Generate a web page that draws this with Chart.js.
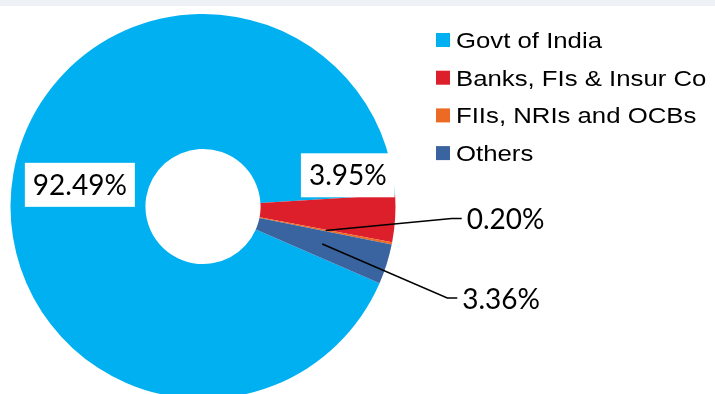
<!DOCTYPE html>
<html>
<head>
<meta charset="utf-8">
<script src="https://cdn.jsdelivr.net/npm/chart.js@4.4.1/dist/chart.umd.min.js"></script>
<style>
html, body { margin: 0; padding: 0; background: #fff; overflow: hidden; }
#wrap { position: relative; width: 715px; height: 394px; overflow: hidden; }
#band { position: absolute; left: 0; top: 0; width: 715px; height: 6px; background: #eef1f6; }
canvas { position: absolute; left: 0; top: 0; }
</style>
</head>
<body>
<div id="wrap">
  <canvas id="myChart" width="715" height="410"></canvas>
  <div id="band"></div>
</div>
<script>
const canvas = document.getElementById('myChart');
const ctx = canvas.getContext('2d');

const labels = [
    'Govt of India',
    'Banks, FIs & Insur Co',
    'FIIs, NRIs and OCBs',
    'Others'
];
const values = [92.49, 3.95, 0.20, 3.36];
const colors = ['#00b0f0', '#dc1f2b', '#ec6a24', '#3a64a0'];

// how each percent label is placed: white box near the slice, or a leader line out to the right
const labelMode = ['box', 'box', 'line', 'line'];
const labelShift = [[0, 0], [20, -39], [126, -12], [125, 54]];

const pieLabels = {
    id: 'pieLabels',
    afterDatasetsDraw(chart) {
        const c = chart.ctx;
        const arcs = chart.getDatasetMeta(0).data;
        c.save();
        c.font = '28px Lato';
        c.textBaseline = 'middle';
        arcs.forEach((arc, i) => {
            const p = arc.tooltipPosition();
            const txt = values[i].toFixed(2) + '%';
            const w = c.measureText(txt).width;
            const x = p.x + labelShift[i][0];
            const y = p.y + labelShift[i][1];
            if (labelMode[i] === 'box') {
                c.fillStyle = '#fff';
                c.fillRect(x - w / 2 - 8, y - 22, w + 16, 44);
                c.fillStyle = '#000';
                c.textAlign = 'center';
                c.fillText(txt, x, y + 1);
            } else {
                c.strokeStyle = '#000';
                c.lineWidth = 1.5;
                c.beginPath();
                c.moveTo(p.x, p.y);
                c.lineTo(x, y);
                c.lineTo(x + 10, y);
                c.stroke();
                c.fillStyle = '#000';
                c.textAlign = 'left';
                c.fillText(txt, x + 15, y + 2);
            }
        });

        // legend
        c.textBaseline = 'alphabetic';
        c.textAlign = 'left';
        labels.forEach((lab, i) => {
            const y = 40 + i * 37.7;
            c.fillStyle = colors[i];
            c.fillRect(436, y - 7, 14, 14);
            c.fillStyle = '#000';
            c.save();
            c.translate(456, y + 8);
            c.scale(1.17, 1);
            c.font = '22px "Liberation Sans", Arial';
            c.fillText(lab, 0, 0);
            c.restore();
        });
        c.restore();
    }
};

const data = {
    labels: labels,
    datasets: [{
        data: values,
        backgroundColor: colors,
        borderWidth: 0,
        hoverOffset: 0
    }]
};

var myChart = new Chart(ctx, {
    type: 'doughnut',
    data: data,
    options: {
        responsive: false,
        animation: false,
        devicePixelRatio: 1,
        rotation: 113.5,
        cutout: '29.9%',
        layout: {
            padding: { left: 10.5, top: 14, right: 319.5, bottom: 11 }
        },
        plugins: {
            legend: { display: false },
            tooltip: { enabled: false }
        }
    },
    plugins: [pieLabels]
});
</script>
</body>
</html>
